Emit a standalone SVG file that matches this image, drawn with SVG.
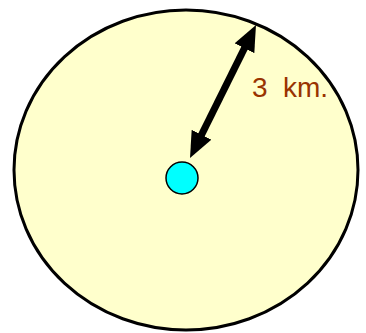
<svg xmlns="http://www.w3.org/2000/svg" width="366" height="333" viewBox="0 0 366 333">
<defs>
<style>
.area{fill:#FFFFCC;stroke:#000;stroke-width:3}
.site{fill:#00FFFF;stroke:#000;stroke-width:1.5}
.lbl{font-family:"Liberation Sans",Arial,sans-serif;font-size:28px;fill:#993300}
.conn{stroke:#000;stroke-width:7;fill:none}
</style>
<marker id="ah" viewBox="0 0 26 22" refX="11" refY="11" markerWidth="26" markerHeight="22" markerUnits="userSpaceOnUse" orient="auto-start-reverse">
<path d="M0,0 L26,11 L0,22 Z" fill="#000"/>
</marker>
</defs>
<rect width="366" height="333" fill="#fff"/>
<g id="area"><ellipse class="area" cx="186" cy="170" rx="172" ry="160"/></g>
<g id="site"><circle class="site" cx="182" cy="178" r="16"/></g>
<g id="connectors">
<line class="conn" x1="196.67" y1="144.57" x2="249.33" y2="38.43" marker-start="url(#ah)" marker-end="url(#ah)"/>
</g>
<g id="label"><text class="lbl" x="252" y="97">3<tspan x="283">km.</tspan></text></g>
</svg>
